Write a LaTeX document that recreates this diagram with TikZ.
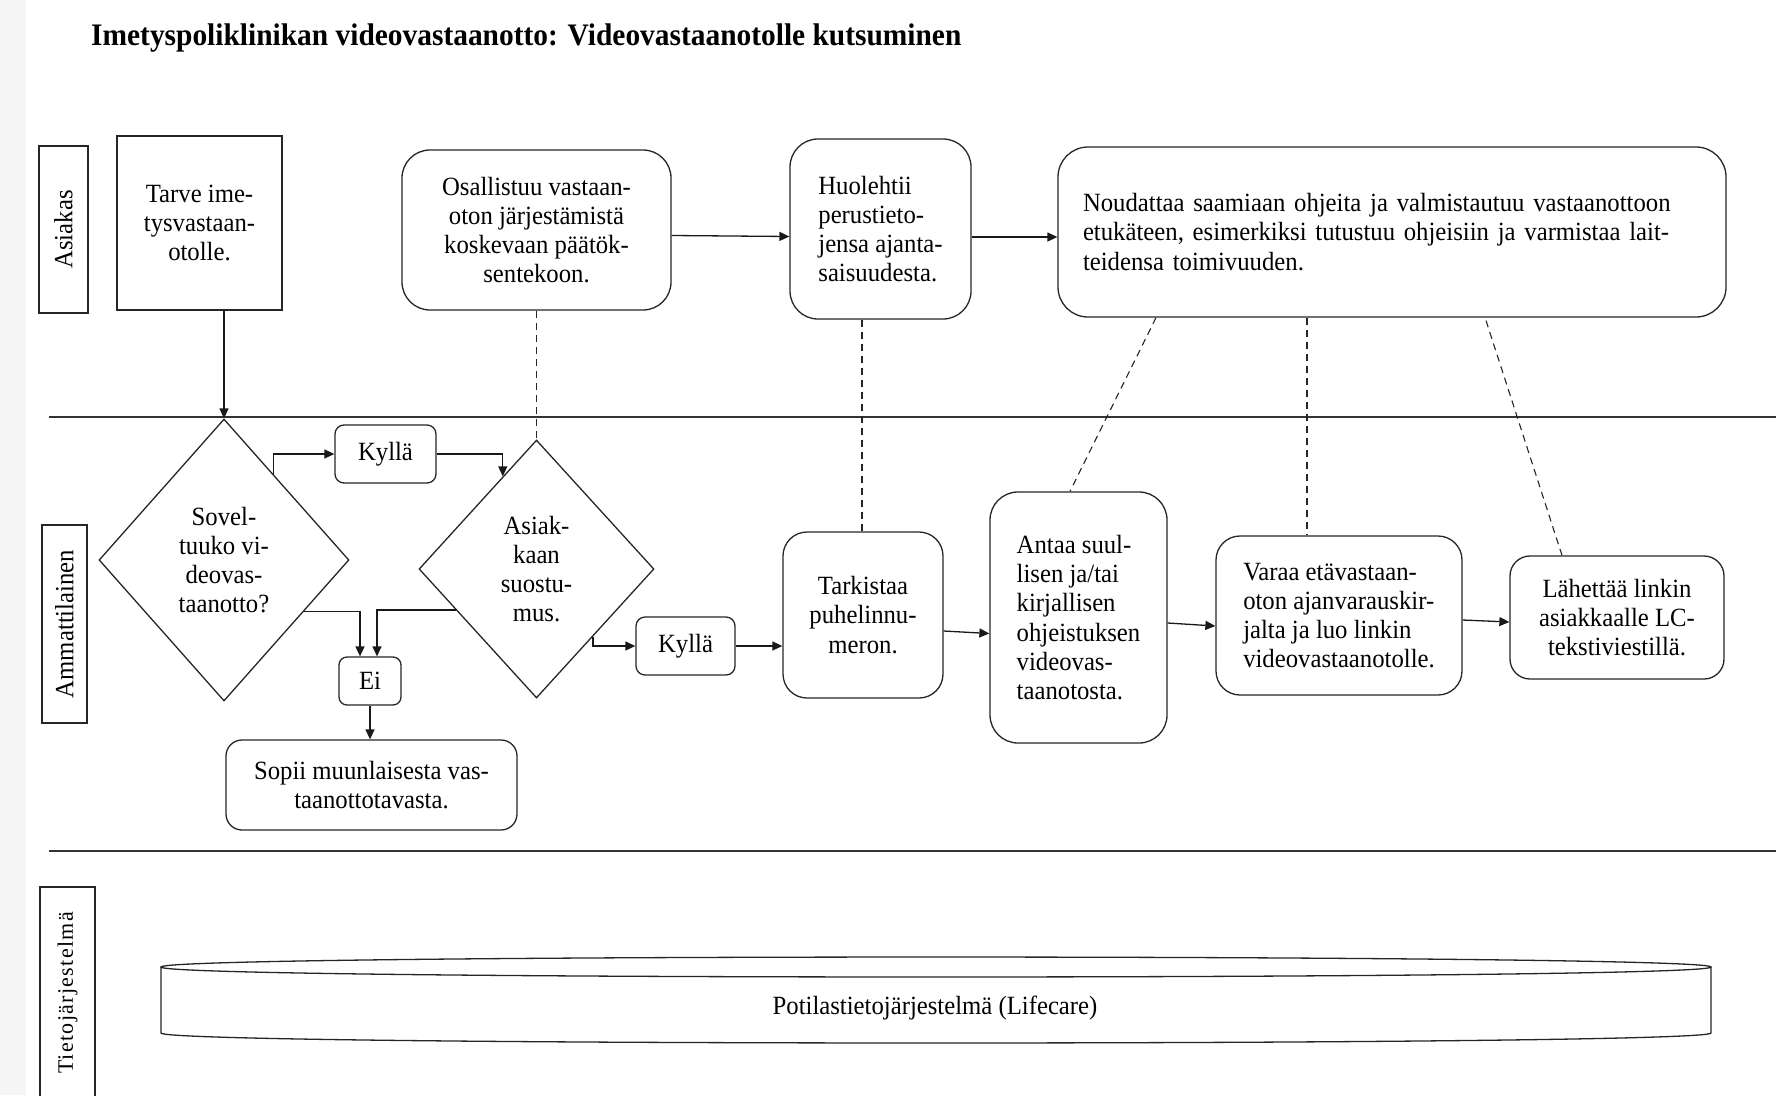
\documentclass[tikz,border=0pt]{standalone}
\usepackage{fontspec}
\setmainfont{Liberation Serif}[FakeStretch=0.94]
\newfontfamily\lanefont{Liberation Serif}[LetterSpace=6]
\usetikzlibrary{shapes.geometric,arrows.meta,calc}

\begin{document}
\begin{tikzpicture}[x=1pt,y=-1pt,
  font=\fontsize{26.3pt}{29.2pt}\selectfont,
  outl/.style={draw=black!85, line width=1.3pt},
  card/.style={outl, align=center, inner sep=0pt, rounded corners=#1},
  lanelbl/.style={outl, rotate=90, inner sep=0pt},
  decision/.style={outl, diamond, inner sep=0pt, align=center},
  arr/.style={draw=black!90, line width=1.3pt, -{Triangle[length=10pt,width=9pt]}},
  dline/.style={draw=black!85, line width=1.1pt, dash pattern=on 7pt off 5pt},
  laneline/.style={draw=black!80, line width=1.4pt}
]
\useasboundingbox (0,0) rectangle (1776,1095);
\clip (0,0) rectangle (1776,1095);

% page edge
\fill[black!4] (0,0) rectangle (26,1095);

% title
\node[anchor=base west, inner sep=0pt, font=\bfseries\fontsize{31.3pt}{36pt}\selectfont] (title) at (91,45)
  {Imetyspoliklinikan videovastaanotto: Videovastaanotolle kutsuminen};

% swimlane separators
\draw[laneline] (49,417) -- (1776,417);
\draw[laneline] (49,851) -- (1776,851);

% lane labels
\node[lanelbl, minimum width=167pt, minimum height=49pt] (laneA) at (63.5,229.5) {Asiakas};
\node[lanelbl, minimum width=198pt, minimum height=45pt] (laneB) at (64.5,624) {Ammattilainen};
\node[lanelbl, minimum width=212pt, minimum height=55pt] (laneC) at (67.5,993)
  {\lanefont\fontsize{22pt}{24pt}\selectfont Tietojärjestelmä};

% Asiakas lane
\node[card=0pt, minimum width=165pt, minimum height=174pt] (tarve) at (199.5,223)
  {Tarve ime-\\tysvastaan-\\otolle.};
\node[card=28pt, minimum width=269pt, minimum height=160pt] (osall) at (536.5,230)
  {Osallistuu vastaan-\\oton järjestämistä\\koskevaan päätök-\\sentekoon.};
\node[card=28pt, align=left, minimum width=181pt, minimum height=180pt] (huol) at (880.5,229)
  {Huolehtii\\perustieto-\\jensa ajanta-\\saisuudesta.};
\node[card=30pt, align=left, text width=618pt, inner xsep=25pt, minimum height=170pt] (noud) at (1392,232)
  {Noudattaa saamiaan ohjeita ja valmistautuu vastaanottoon\\etukäteen, esimerkiksi tutustuu ohjeisiin ja varmistaa lait-\\teidensa toimivuuden.};

% Ammattilainen lane
\node[decision, minimum width=250pt, minimum height=282pt] (sovel) at (224,560)
  {Sovel-\\tuuko vi-\\deovas-\\taanotto?};
\node[card=9pt, minimum width=101pt, minimum height=58pt] (kylla1) at (385.5,454) {\raisebox{-2pt}{Kyllä}};
\node[decision, minimum width=235pt, minimum height=258pt] (asiak) at (536.5,569)
  {Asiak-\\kaan\\suostu-\\mus.};
\node[card=9pt, minimum width=99pt, minimum height=58pt] (kylla2) at (685.5,646) {\raisebox{-2pt}{Kyllä}};
\node[card=8pt, minimum width=62pt, minimum height=48pt] (ei) at (370,681) {Ei};
\node[card=16pt, minimum width=291pt, minimum height=90pt] (sopii) at (371.5,785)
  {Sopii muunlaisesta vas-\\taanottotavasta.};
\node[card=24pt, minimum width=160pt, minimum height=166pt] (tark) at (863,615)
  {Tarkistaa\\puhelinnu-\\meron.};
\node[card=28pt, align=left, minimum width=177pt, minimum height=251pt] (antaa) at (1078.5,617.5)
  {Antaa suul-\\lisen ja/tai\\kirjallisen\\ohjeistuksen\\videovas-\\taanotosta.};
\node[card=24pt, align=left, minimum width=246pt, minimum height=159pt] (varaa) at (1339,615.5)
  {Varaa etävastaan-\\oton ajanvarauskir-\\jalta ja luo linkin\\videovastaanotolle.};
\node[card=20pt, minimum width=214pt, minimum height=123pt] (lah) at (1617,617.5)
  {Lähettää linkin\\asiakkaalle LC-\\tekstiviestillä.};

% Tietojärjestelmä lane: database cylinder
\draw[outl] (161,967) .. controls (161,953.7) and (1711,953.7) .. (1711,967)
            .. controls (1711,980.3) and (161,980.3) .. (161,967) -- cycle;
\draw[outl] (161,967) -- (161,1033) .. controls (161,1046.3) and (1711,1046.3) .. (1711,1033) -- (1711,967);
\node (pts) at (935,1008) {Potilastietojärjestelmä (Lifecare)};

% flow connectors
\draw[arr] (tarve.south -| sovel.north) -- (sovel.north);
\draw[arr] ($(osall.east)+(0,5.5)$) -- ($(huol.west)+(0,7.5)$);
\draw[arr] ($(huol.east)+(0,8)$) -- ($(noud.west)+(0,5)$);
\draw[arr] (sovel.60) |- (kylla1.west);
\draw[arr] (kylla1.east) -| (asiak.110);
\draw[arr] (sovel.-33) -| ($(ei.north)+(-10,0)$);
\draw[arr] (asiak.207) -| ($(ei.north)+(7,0)$);
\draw[arr] (asiak.-50) |- (kylla2.west);
\draw[arr] (kylla2.east) -- (kylla2.east -| tark.west);
\draw[arr] (ei.south) -- (ei.south |- sopii.north);
\draw[arr] ($(tark.east)+(0,16)$) -- ($(antaa.west)+(0,16)$);
\draw[arr] ($(antaa.east)+(0,5.5)$) -- ($(varaa.west)+(0,10.5)$);
\draw[arr] ($(varaa.east)+(0,4.5)$) -- ($(lah.west)+(0,4.5)$);

% dashed links between lanes
\draw[dline] (osall.south) -- (asiak.north);
\draw[dline] ($(huol.south)+(-18.5,0)$) -- ($(tark.north)+(-1,0)$);
\draw[dline] ($(noud.south)+(-236,0)$) -- ($(antaa.north)+(-8.5,0)$);
\draw[dline] ($(noud.south)+(-85,0)$) -- ($(varaa.north)+(-32,0)$);
\draw[dline] ($(noud.south)+(94,3)$) -- ($(lah.north)+(-55,0)$);
\end{tikzpicture}
\end{document}
